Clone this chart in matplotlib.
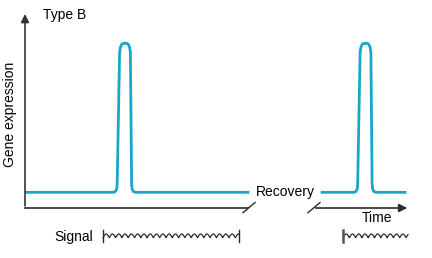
import matplotlib.pyplot as plt
import numpy as np

plt.rcParams['font.family'] = ['Liberation Sans', 'DejaVu Sans']

# first pulse (during signal)
time1 = [0, 88.5, 90.5, 91.8, 92.2, 94.6, 95.4, 96.8, 98.5, 101.5, 103.2,
         104.6, 105.4, 106.6, 107.0, 108.3, 110.5, 223]
expr1 = [1, 1, 1.05, 1.25, 1.6, 9.9, 10.25, 10.45, 10.5, 10.5, 10.45,
         10.25, 9.9, 1.6, 1.25, 1.05, 1, 1]
# second pulse (after recovery)
time2 = [297, 329, 331, 332.3, 332.7, 335.1, 335.9, 337.3, 339, 342, 343.7,
         345.1, 345.9, 347.1, 347.5, 348.8, 351, 380]
expr2 = [1, 1, 1.05, 1.25, 1.6, 9.9, 10.25, 10.45, 10.5, 10.5, 10.45,
         10.25, 9.9, 1.6, 1.25, 1.05, 1, 1]

signal1 = (78, 214)
signal2 = (318, 383)

line_color = '#1aa6c8'
dark = '#2a2a2a'


def squiggle(ax, start, end, y, period=6.3, amp=0.24):
    xs = np.linspace(start, end, 600)
    ys = y - amp / 2 + amp * np.abs(np.sin(np.pi * (xs - start) / period))
    ax.plot(xs, ys, color=dark, lw=0.9, clip_on=False)


fig = plt.figure(figsize=(4.32, 2.58), dpi=100)
ax = fig.add_axes([25 / 432, 50 / 258, 385 / 432, 196 / 258])
ax.set_xlim(0, 385)
ax.set_ylim(0, 12.5)
ax.axis('off')

ax.plot(time1, expr1, color=line_color, lw=2.0, solid_joinstyle='round')
ax.plot(time2, expr2, color=line_color, lw=2.0, solid_joinstyle='round')

# y axis arrow
ax.annotate('', xy=(0, 12.55), xytext=(0, -0.05),
            arrowprops=dict(arrowstyle='-|>', color='#333333', lw=1.2, mutation_scale=12),
            annotation_clip=False)
# x axis, broken
ax.plot([0, 223], [0, 0], color=dark, lw=1.2, clip_on=False)
ax.annotate('', xy=(385, 0), xytext=(288, 0),
            arrowprops=dict(arrowstyle='-|>', color=dark, lw=1.2, mutation_scale=12),
            annotation_clip=False)
ax.plot([218, 230], [-0.3, 0.35], color=dark, lw=1.0, clip_on=False)
ax.plot([283, 295], [-0.3, 0.35], color=dark, lw=1.0, clip_on=False)

ax.text(18, 12.3, 'Type B', fontsize=10, va='center', ha='left')
ax.text(260, 1.0, 'Recovery', fontsize=10, va='center', ha='center')
ax.text(352, -0.65, 'Time', fontsize=10, va='center', ha='center')
ax.text(-15, 6.0, 'Gene expression', fontsize=10, rotation=90, va='center', ha='center')
ax.text(49, -1.85, 'Signal', fontsize=10, va='center', ha='center')

squiggle(ax, signal1[0], signal1[1], -1.78)
ax.plot([signal1[0], signal1[0]], [-2.15, -1.4], color=dark, lw=1.0, clip_on=False)
ax.plot([signal1[1], signal1[1]], [-2.15, -1.4], color=dark, lw=1.0, clip_on=False)
squiggle(ax, signal2[0], signal2[1], -1.78)
ax.plot([signal2[0], signal2[0]], [-2.15, -1.4], color='#555555', lw=1.8, clip_on=False)

fig.savefig('out.png', dpi=100)
